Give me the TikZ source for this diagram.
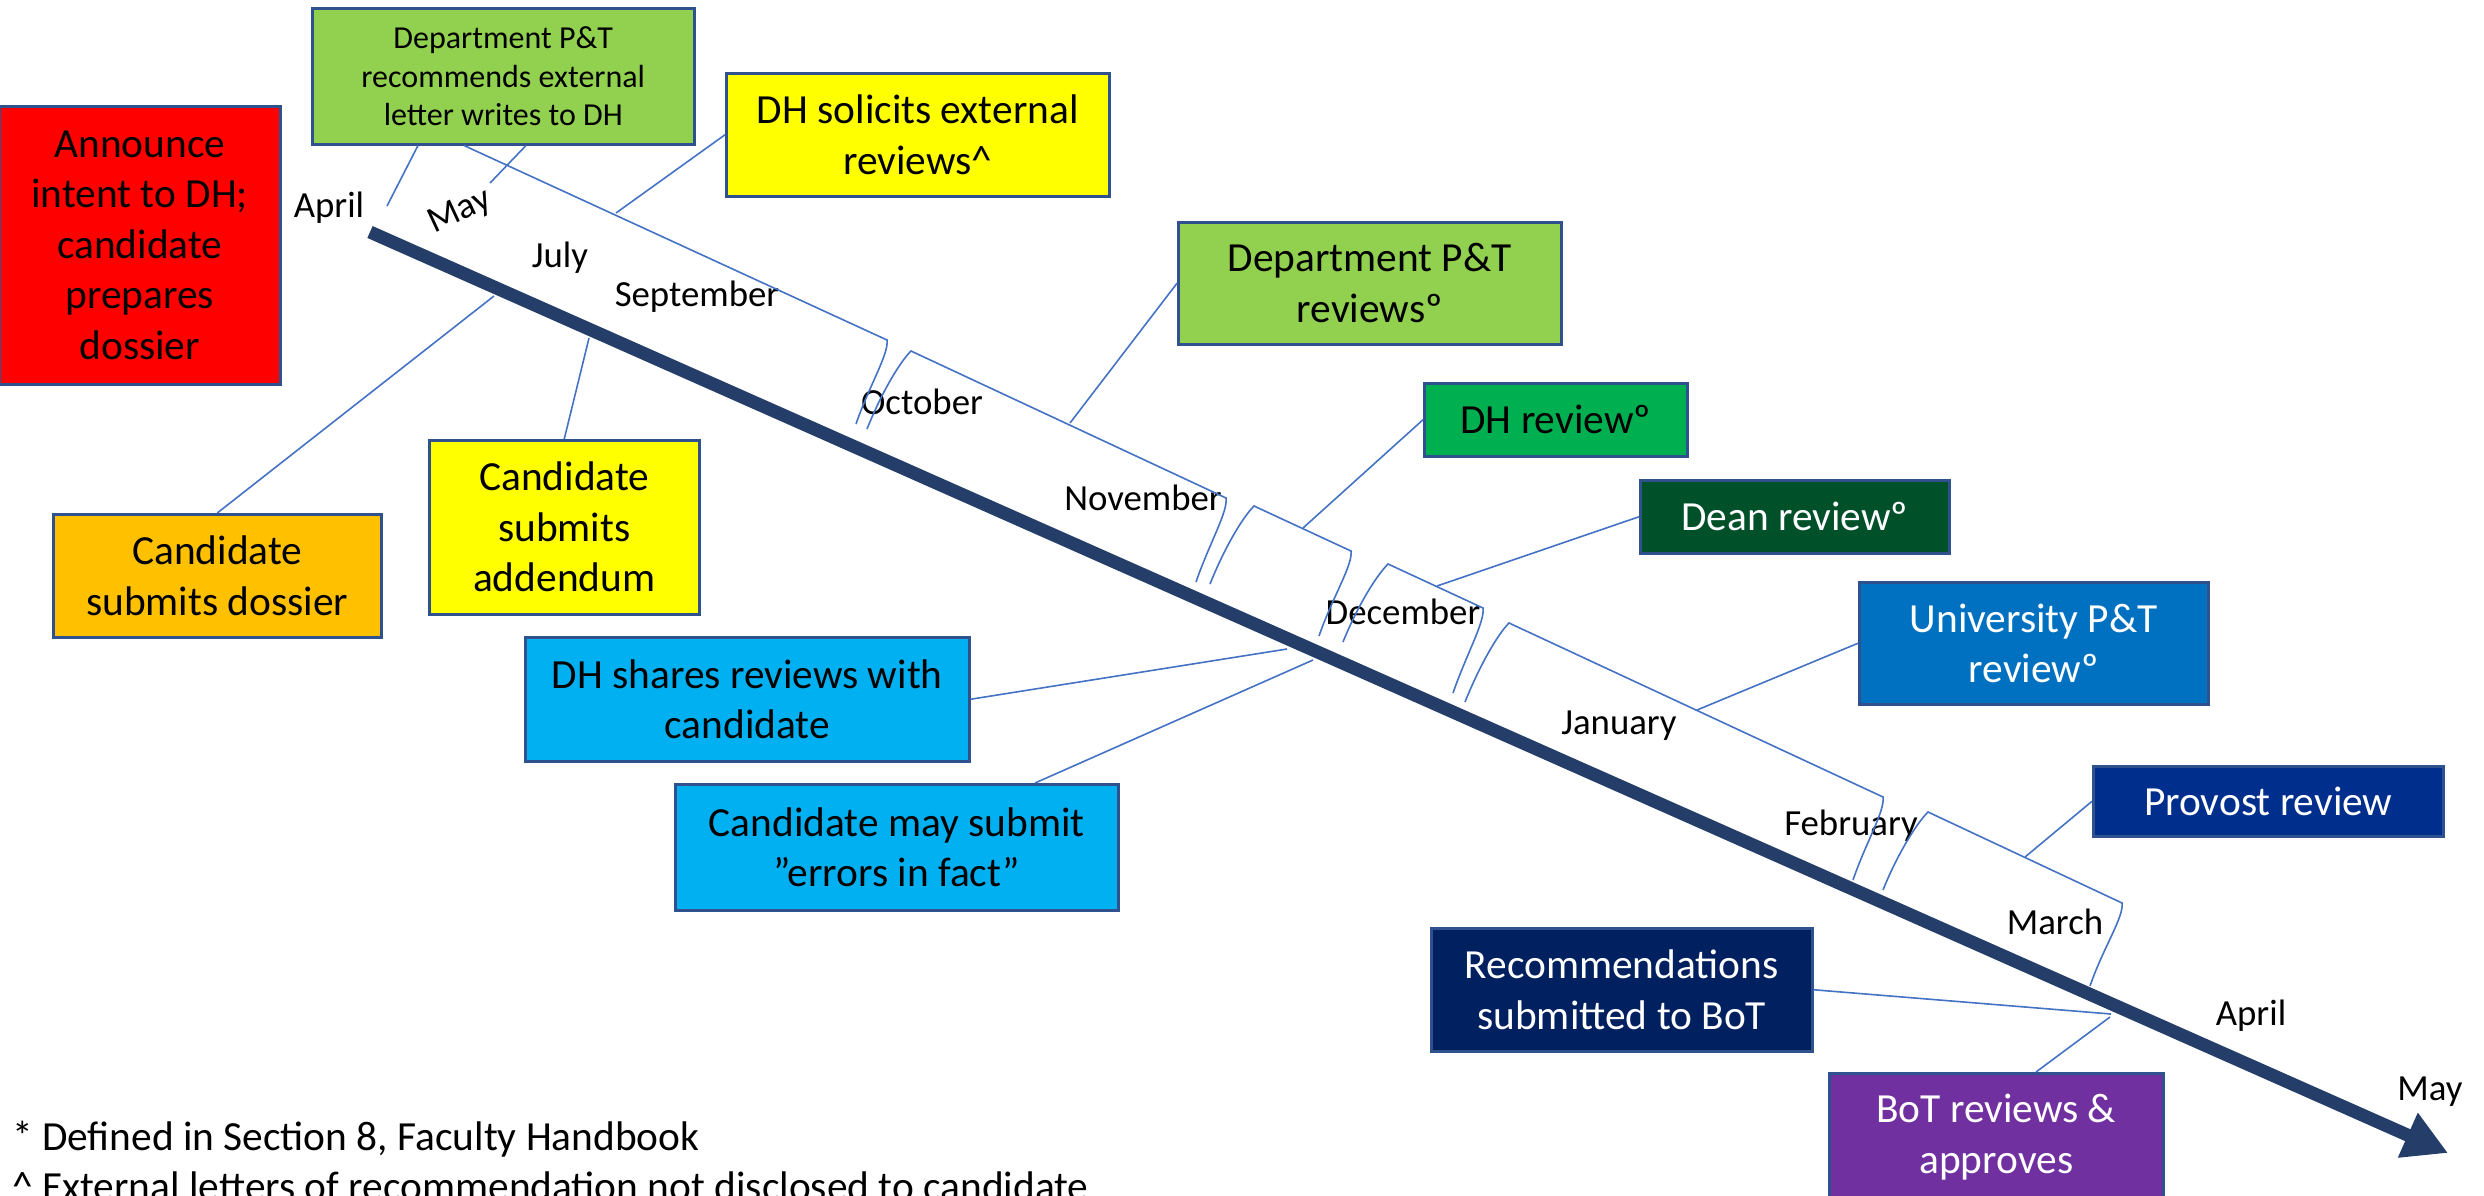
\documentclass[tikz,border=0pt]{standalone}
\usepackage{fontspec}
\setmainfont{Carlito}
\usetikzlibrary{arrows.meta}
\definecolor{bordc}{HTML}{2F528F}
\definecolor{connc}{HTML}{4472C4}
\definecolor{arrowc}{RGB}{36,62,105}
\definecolor{redc}{HTML}{FF0000}
\definecolor{lgreen}{HTML}{92D050}
\definecolor{yelc}{HTML}{FFFF00}
\definecolor{mgreen}{HTML}{00B050}
\definecolor{dgreen}{HTML}{00502A}
\definecolor{ublue}{HTML}{0070C0}
\definecolor{pblue}{HTML}{002E8C}
\definecolor{navyc}{HTML}{002060}
\definecolor{purpc}{HTML}{7030A0}
\definecolor{orangec}{HTML}{FFC000}
\definecolor{cyanc}{HTML}{00B0F0}
\newcommand\bodyfnt{\fontsize{41.4}{50.5}\selectfont}
\newcommand\smallfnt{\fontsize{32}{38.4}\selectfont}
\newcommand\monthfnt{\fontsize{36.8}{44}\selectfont}
\begin{document}
\begin{tikzpicture}[x=1pt,y=-1pt,
  box/.style={draw=bordc, line width=2.5pt, anchor=north west, align=center, inner sep=0pt, font=\bodyfnt},
  month/.style={inner sep=0pt, font=\monthfnt},
  foot/.style={inner sep=0pt, font=\bodyfnt, anchor=base west},
  conn/.style={draw=connc, line width=1.6pt},
  mainarrow/.style={draw=arrowc, line width=13pt, -{Triangle[length=44pt,width=46pt]}}]
\useasboundingbox (0,0) rectangle (2484,1195);
\clip (0,0) rectangle (2484,1195);

% boxes
\node[box, fill=redc, minimum width=281pt, minimum height=278pt] (announce) at (-2,105) {Announce\\intent to DH;\\candidate\\prepares\\dossier};
\node[box, fill=lgreen, minimum width=382pt, minimum height=136pt, font=\smallfnt] (deprec) at (311,7) {Department P\&T\\recommends external\\letter writes to DH};
\node[box, fill=yelc, minimum width=383pt, minimum height=123pt] (solicit) at (725,72) {DH solicits external\\reviews\textasciicircum};
\node[box, fill=lgreen, minimum width=383pt, minimum height=122pt] (deprev) at (1177,221) {Department P\&T\\reviewsº};
\node[box, fill=mgreen, minimum width=263pt, minimum height=73pt] (dhrev) at (1423,382) {DH reviewº};
\node[box, fill=dgreen, text=white, minimum width=309pt, minimum height=73pt] (dean) at (1639,479) {Dean reviewº};
\node[box, fill=ublue, text=white, minimum width=349pt, minimum height=122pt] (univ) at (1858,581) {University P\&T\\reviewº};
\node[box, fill=pblue, text=white, minimum width=350pt, minimum height=70pt] (provost) at (2092,765) {Provost review};
\node[box, fill=navyc, text=white, minimum width=381pt, minimum height=123pt] (recs) at (1430,927) {Recommendations\\submitted to BoT};
\node[box, fill=purpc, text=white, minimum width=334pt, minimum height=128pt] (bot) at (1828,1072) {BoT reviews \&\\approves};
\node[box, fill=orangec, minimum width=328pt, minimum height=123pt] (subdos) at (52,513) {Candidate\\submits dossier};
\node[box, fill=yelc, minimum width=270pt, minimum height=174pt] (addend) at (428,439) {Candidate\\submits\\addendum};
\node[box, fill=cyanc, minimum width=444pt, minimum height=124pt] (shares) at (524,636) {DH shares reviews with\\candidate};
\node[box, fill=cyanc, minimum width=443pt, minimum height=126pt] (errors) at (674,783) {Candidate may submit\\”errors in fact”};

% month labels
\node[month] (mApr) at (329,208) {April};
\node[month, rotate=25] (mMay) at (460,212) {May};
\node[month] (mJul) at (560,258) {July};
\node[month] (mSep) at (697,297) {September};
\node[month] (mOct) at (922,402) {October};
\node[month] (mNov) at (1143,498) {November};
\node[month] (mDec) at (1403,612) {December};
\node[month] (mJan) at (1619,726) {January};
\node[month] (mFeb) at (1851,826) {February};
\node[month] (mMar) at (2055,922) {March};
\node[month] (mApr2) at (2251,1016) {April};
\node[month] (mMay2) at (2430,1092) {May};

% footnotes
\node[foot] (fn1) at (12,1150) {* Defined in Section 8, Faculty Handbook};
\node[foot] (fn2) at (12,1200) {\textasciicircum\ External letters of recommendation not disclosed to candidate};

% bracket points
\coordinate (a1) at (887,340); \coordinate (e1) at (856,424);
\coordinate (s2) at (867,429); \coordinate (b2) at (911,351); \coordinate (a2) at (1226,498); \coordinate (e2) at (1196,582);
\coordinate (s3) at (1210,584); \coordinate (b3) at (1254,506); \coordinate (a3) at (1351,551); \coordinate (e3) at (1319,636);
\coordinate (s4) at (1343,642); \coordinate (b4) at (1388,564); \coordinate (a4) at (1483,608); \coordinate (e4) at (1453,693);
\coordinate (s5) at (1465,702); \coordinate (b5) at (1509,623); \coordinate (a5) at (1883,797); \coordinate (e5) at (1853,880);
\coordinate (s6) at (1883,890); \coordinate (b6) at (1928,812); \coordinate (a6) at (2122,903); \coordinate (e6) at (2090,986);
% connector ends
\coordinate (tApr) at (387,206); \coordinate (tMay) at (490,183);
\coordinate (p1) at (616,213); \coordinate (p2) at (1070,423); \coordinate (p3) at (1303,528);
\coordinate (p4) at (1437,586); \coordinate (p5) at (1697,710); \coordinate (p6) at (2025,857);
\coordinate (q1) at (494,296); \coordinate (q2) at (589,338); \coordinate (q3) at (1287,649);
\coordinate (q4) at (1313,660); \coordinate (q5) at (2111,1014); \coordinate (q6) at (2110,1017);
\coordinate (astart) at (370,232); \coordinate (aend) at (2448,1153);

% brackets
\draw[conn] ([xshift=153pt]deprec.south west) -- (a1) .. controls +(2,14) and +(13,-38) .. (e1);
\draw[conn] (s2) .. controls +(14,-35) and +(-12,12) .. (b2) -- (a2) .. controls +(2,14) and +(13,-38) .. (e2);
\draw[conn] (s3) .. controls +(14,-35) and +(-12,12) .. (b3) -- (a3) .. controls +(2,14) and +(13,-38) .. (e3);
\draw[conn] (s4) .. controls +(14,-35) and +(-12,12) .. (b4) -- (a4) .. controls +(2,14) and +(13,-38) .. (e4);
\draw[conn] (s5) .. controls +(14,-35) and +(-12,12) .. (b5) -- (a5) .. controls +(2,14) and +(13,-38) .. (e5);
\draw[conn] (s6) .. controls +(14,-35) and +(-12,12) .. (b6) -- (a6) .. controls +(2,14) and +(13,-38) .. (e6);

% connectors
\draw[conn] ([xshift=107pt]deprec.south west) -- (tApr);
\draw[conn] ([xshift=215pt]deprec.south west) -- (tMay);
\draw[conn] (solicit.west) -- (p1);
\draw[conn] (deprev.west) -- (p2);
\draw[conn] (dhrev.west) -- (p3);
\draw[conn] (dean.west) -- (p4);
\draw[conn] (univ.west) -- (p5);
\draw[conn] (provost.west) -- (p6);
\draw[conn] (subdos.north) -- (q1);
\draw[conn] (addend.north) -- (q2);
\draw[conn] (shares.east) -- (q3);
\draw[conn] ([xshift=361pt]errors.north west) -- (q4);
\draw[conn] (recs.east) -- (q5);
\draw[conn] ([xshift=208pt]bot.north west) -- (q6);

% main arrow
\draw[mainarrow] (astart) -- (aend);
\end{tikzpicture}
\end{document}
